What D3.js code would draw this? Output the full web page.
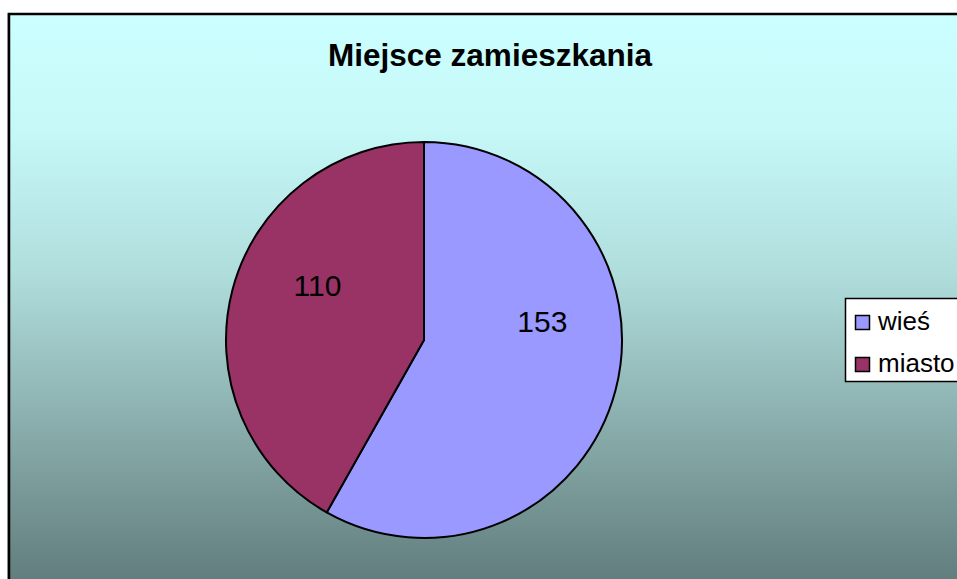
<!DOCTYPE html>
<html><head><meta charset="utf-8">
<script src="https://cdn.jsdelivr.net/npm/d3@7"></script>
<style>html,body{margin:0;padding:0;background:#fff;overflow:hidden}</style>
</head><body>
<svg id="c" width="957" height="579"></svg>
<script>
const title = "Miejsce zamieszkania";
const categories = ["wieś", "miasto"];
const values = [153, 110];
const colors = ["#9999FF", "#993366"];

const svg = d3.select("#c");
const defs = svg.append("defs");
const g = defs.append("linearGradient").attr("id","bg").attr("x1",0).attr("y1",0).attr("x2",0).attr("y2",1);
[[0,"#CCFFFF"],[0.2,"#C6F8F8"],[0.45,"#AFDDDC"],[0.7,"#8BAFAE"],[1,"#5E7979"]].forEach(s=>g.append("stop").attr("offset",s[0]).attr("stop-color",s[1]));

svg.append("rect").attr("x",7).attr("y",13).attr("width",960).attr("height",580).attr("fill","#bbb");
svg.append("rect").attr("x",9).attr("y",14).attr("width",960).attr("height",580).attr("fill","url(#bg)").attr("stroke","#000").attr("stroke-width",2.5);

svg.append("text").attr("x",490).attr("y",66).attr("text-anchor","middle")
  .attr("font-family","Liberation Sans, Arial, sans-serif").attr("font-weight","bold").attr("font-size",31.5)
  .text(title);

const cx = 424, cy = 340, r = 198;
const pie = d3.pie().sort(null).value(d=>d)(values);
const arc = d3.arc().innerRadius(0).outerRadius(r);
const pg = svg.append("g").attr("transform",`translate(${cx},${cy})`);
pg.selectAll("path").data(pie).join("path").attr("d",arc)
  .attr("fill",(d,i)=>colors[i]).attr("stroke","#000").attr("stroke-width",2).attr("stroke-linejoin","round");

// label placement: distance from centre and angular shift (layout, not data)
const labelDist = 0.605 * r;
const labelShift = [-0.415, 0.218];
pg.selectAll("text").data(pie).join("text")
  .attr("transform",(d,i)=>{
    const a = (d.startAngle + d.endAngle)/2 + labelShift[i];
    return `translate(${Math.sin(a)*labelDist},${-Math.cos(a)*labelDist})`;
  })
  .attr("text-anchor","middle").attr("dy","0.36em")
  .attr("font-family","Liberation Sans, Arial, sans-serif").attr("font-size",30)
  .text(d=>d.data);

const lg = svg.append("g");
lg.append("rect").attr("x",845.5).attr("y",298.5).attr("width",130).attr("height",83).attr("fill","#fff").attr("stroke","#000").attr("stroke-width",1.5);
categories.forEach((c,i)=>{
  const y = 315 + i*42;
  lg.append("rect").attr("x",855.5).attr("y",y+0.5).attr("width",14).attr("height",14).attr("fill",colors[i]).attr("stroke","#000").attr("stroke-width",1.5);
  lg.append("text").attr("x",878).attr("y",y+15).attr("font-family","Liberation Sans, Arial, sans-serif").attr("font-size",26).text(c);
});
</script>
</body></html>
